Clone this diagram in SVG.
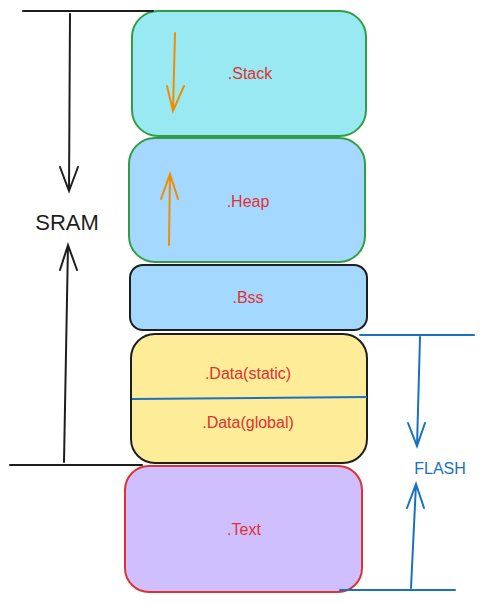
<svg xmlns="http://www.w3.org/2000/svg" width="484" height="602" viewBox="0 0 484 602">
<style>
.box{stroke-width:2}
.lbl{font-family:"Liberation Sans",Arial,sans-serif;font-size:16px;fill:#e03131;text-anchor:middle;dominant-baseline:central}
.blk{stroke:#1e1e1e;stroke-width:2;fill:none;stroke-linecap:round}
.blu{stroke:#1971c2;stroke-width:2;fill:none;stroke-linecap:round}
.org{stroke:#f08c00;stroke-width:2;fill:none;stroke-linecap:round}
</style>
<rect width="484" height="602" fill="#ffffff"/>
<g id="stack"><rect class="box" x="132" y="11" width="234" height="125" rx="26" fill="#99e9f2" stroke="#2f9e44"/><text class="lbl" x="250" y="73">.Stack</text></g>
<g id="heap"><rect class="box" x="129" y="138" width="236" height="124" rx="26" fill="#a5d8ff" stroke="#2f9e44"/><text class="lbl" x="248" y="201">.Heap</text></g>
<g id="bss"><rect class="box" x="130" y="265" width="237" height="65" rx="13" fill="#a5d8ff" stroke="#1e1e1e"/><text class="lbl" x="248" y="297">.Bss</text></g>
<g id="data"><rect class="box" x="131" y="334" width="236" height="129" rx="24" fill="#ffec99" stroke="#1e1e1e"/><line x1="132" y1="399" x2="367" y2="397" stroke="#1971c2" stroke-width="2"/><text class="lbl" x="248" y="373">.Data(static)</text><text class="lbl" x="248" y="422">.Data(global)</text></g>
<g id="text"><rect class="box" x="125" y="466" width="237" height="126" rx="24" fill="#d0bfff" stroke="#e03131"/><text class="lbl" x="244" y="529">.Text</text></g>
<g id="sram"><text x="67" y="222" font-family="Liberation Sans,Arial,sans-serif" font-size="22" fill="#1e1e1e" text-anchor="middle" dominant-baseline="central">SRAM</text></g>
<g id="flash"><text x="440" y="468" font-family="Liberation Sans,Arial,sans-serif" font-size="16" fill="#1971c2" text-anchor="middle" dominant-baseline="central">FLASH</text></g>
<g id="connectors">
<path class="blk" d="M23 11 L153 11" stroke-width="3"/>
<path class="blk" d="M70 14 L69 191 M60 167 L69 191 L78 167"/>
<path class="blk" d="M64 462 L68 245 M60 270 L68 245 L77 270"/>
<path class="blk" d="M10 465 L142 465"/>
<path class="blu" d="M360 335 L474 335"/>
<path class="blu" d="M420 337 L417 446 M408 423 L417 446 L425 423"/>
<path class="blu" d="M411 588 L416 484 M407 508 L416 484 L424 508"/>
<path class="blu" d="M340 590 L455 590"/>
<path class="org" d="M175 33 L173 111 M167 86 L173 111 L184 86"/>
<path class="org" d="M169 245 L170 174 M161 199 L170 174 L178 199"/>
</g>
</svg>
